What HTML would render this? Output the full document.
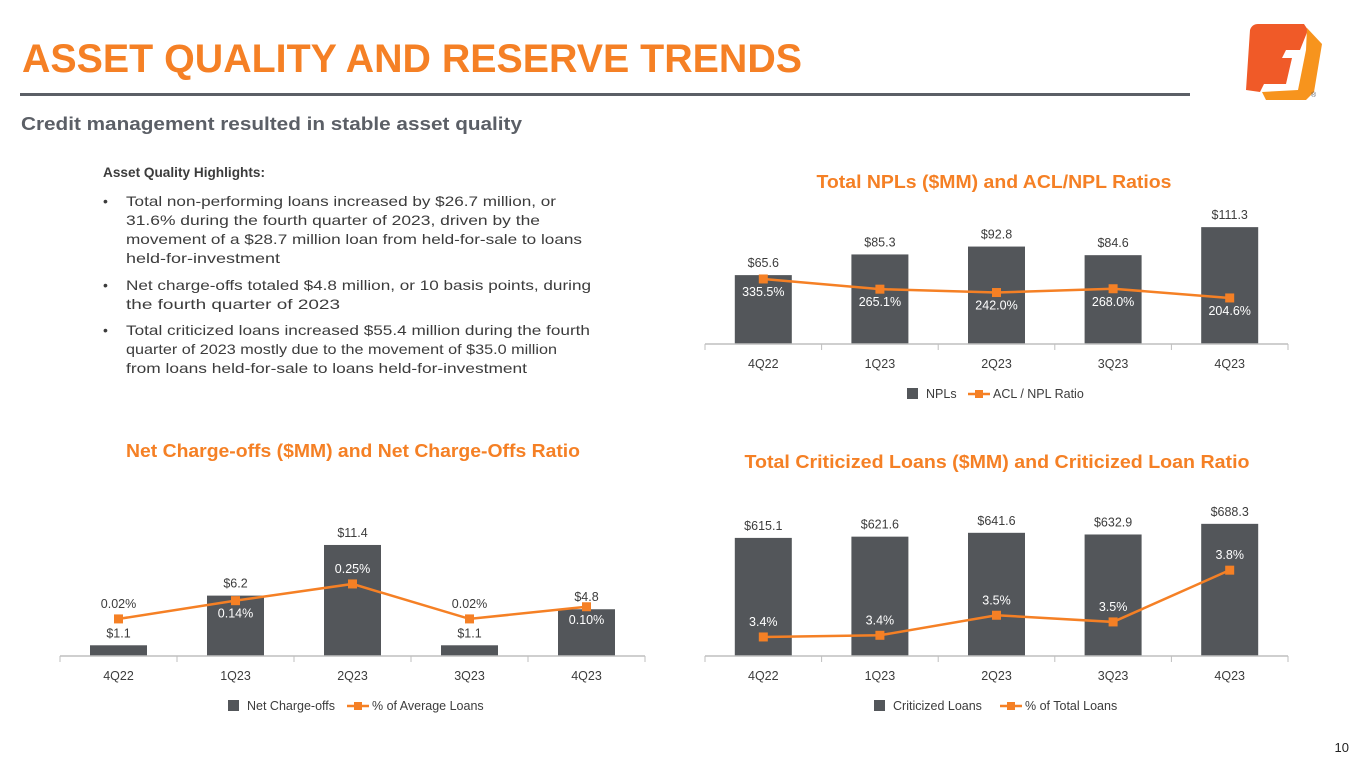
<!DOCTYPE html>
<html><head><meta charset="utf-8"><style>
body{margin:0;background:#fff;}
svg{display:block;font-family:"Liberation Sans","DejaVu Sans",sans-serif;}
</style></head><body>
<svg id="s" width="1365" height="768" viewBox="0 0 1365 768">
<text x="22" y="72" font-size="40" font-weight="bold" fill="#f58025" textLength="780" lengthAdjust="spacingAndGlyphs">ASSET QUALITY AND RESERVE TRENDS</text>
<rect x="20" y="93" width="1170" height="3" fill="#5b5f66"/>
<text x="21" y="130" font-size="18" font-weight="bold" fill="#5b5f66" textLength="501" lengthAdjust="spacingAndGlyphs">Credit management resulted in stable asset quality</text>
<g>
<path d="M1250 30 Q1252 24 1258 24 L1304 24 L1308 30 L1300 50 L1286 50 L1282 58 L1292 58 L1286 84 L1264 84 L1260 92 L1246 90 Z" fill="#f05a28"/>
<path d="M1307 28 L1322 44 L1314 92 L1306 100 L1266 100 L1262 92 L1298 90 L1306 50 Z" fill="#f7941d"/>
<text x="1311" y="97" font-size="7" fill="#5b5f66">®</text>
</g>
<g font-size="14" fill="#3c3c3c">
<text x="103" y="177" font-weight="bold" textLength="162" lengthAdjust="spacingAndGlyphs">Asset Quality Highlights:</text>
<text x="103" y="206">•</text><text x="126" y="206" textLength="430" lengthAdjust="spacingAndGlyphs">Total non-performing loans increased by $26.7 million, or</text>
<text x="126" y="225" textLength="414" lengthAdjust="spacingAndGlyphs">31.6% during the fourth quarter of 2023, driven by the</text>
<text x="126" y="244" textLength="456" lengthAdjust="spacingAndGlyphs">movement of a $28.7 million loan from held-for-sale to loans</text>
<text x="126" y="263" textLength="154" lengthAdjust="spacingAndGlyphs">held-for-investment</text>
<text x="103" y="290">•</text><text x="126" y="290" textLength="465" lengthAdjust="spacingAndGlyphs">Net charge-offs totaled $4.8 million, or 10 basis points, during</text>
<text x="126" y="309" textLength="214" lengthAdjust="spacingAndGlyphs">the fourth quarter of 2023</text>
<text x="103" y="335">•</text><text x="126" y="335" textLength="464" lengthAdjust="spacingAndGlyphs">Total criticized loans increased $55.4 million during the fourth</text>
<text x="126" y="354" textLength="431" lengthAdjust="spacingAndGlyphs">quarter of 2023 mostly due to the movement of $35.0 million</text>
<text x="126" y="373" textLength="401" lengthAdjust="spacingAndGlyphs">from loans held-for-sale to loans held-for-investment</text>
</g>
<text x="994" y="188" font-size="18" font-weight="bold" fill="#f58025" text-anchor="middle" textLength="355" lengthAdjust="spacingAndGlyphs">Total NPLs ($MM) and ACL/NPL Ratios</text>
<text x="353" y="457" font-size="18" font-weight="bold" fill="#f58025" text-anchor="middle" textLength="454" lengthAdjust="spacingAndGlyphs">Net Charge-offs ($MM) and Net Charge-Offs Ratio</text>
<text x="997" y="468" font-size="18" font-weight="bold" fill="#f58025" text-anchor="middle" textLength="505" lengthAdjust="spacingAndGlyphs">Total Criticized Loans ($MM) and Criticized Loan Ratio</text>
<text x="1349" y="752" font-size="13" fill="#222" text-anchor="end">10</text>
</svg>
<script>
const categories = ["4Q22","1Q23","2Q23","3Q23","4Q23"];
const nplValues = [65.6,85.3,92.8,84.6,111.3];
const nplRatio = [335.5,265.1,242.0,268.0,204.6];
const nplBarLabels = ["$65.6","$85.3","$92.8","$84.6","$111.3"];
const nplRatioLabels = ["335.5%","265.1%","242.0%","268.0%","204.6%"];
const ncoValues = [1.1,6.2,11.4,1.1,4.8];
const ncoRatio = [0.02,0.14,0.25,0.02,0.10];
const ncoBarLabels = ["$1.1","$6.2","$11.4","$1.1","$4.8"];
const ncoRatioLabels = ["0.02%","0.14%","0.25%","0.02%","0.10%"];
const critValues = [615.1,621.6,641.6,632.9,688.3];
const critRatio = [3.40,3.41,3.53,3.49,3.80];
const critBarLabels = ["$615.1","$621.6","$641.6","$632.9","$688.3"];
const critRatioLabels = ["3.4%","3.4%","3.5%","3.5%","3.8%"];

const NS="http://www.w3.org/2000/svg";
const svg=document.getElementById('s');
function mk(tag,attrs,parent){const e=document.createElementNS(NS,tag);for(const k in attrs)e.setAttribute(k,attrs[k]);(parent||svg).appendChild(e);return e;}
function chart(o){
  const g=mk('g',{});
  
  
  const n=categories.length, step=(o.x1-o.x0)/n;
  const cx=i=>o.x0+step*(i+0.5);
  const yb=v=>o.axis-v*o.bScale;
  const yl=v=>o.axis-(v-o.lLo)*o.lScale;
  for(let i=0;i<n;i++){
    const r=mk('rect',{x:cx(i)-28.5,y:yb(o.bars[i]),width:57,height:o.axis-yb(o.bars[i]),fill:'#53565a'},g);
    
    
    const t=mk('text',{x:cx(i),y:yb(o.bars[i])-8,'font-size':12.5,fill:'#3c3c3c','text-anchor':'middle'},g);
    t.textContent=o.barLabels[i];
    
    
    const c=mk('text',{x:cx(i),y:o.axis+24,'font-size':12.5,fill:'#3c3c3c','text-anchor':'middle'},g);
    c.textContent=categories[i];
    
    
  }
  mk('line',{x1:o.x0,x2:o.x1,y1:o.axis,y2:o.axis,stroke:'#bfbfbf','stroke-width':1.5},g);
  for(let i=0;i<=n;i++) mk('line',{x1:o.x0+step*i,x2:o.x0+step*i,y1:o.axis,y2:o.axis+6,stroke:'#bfbfbf','stroke-width':1},g);
  const pts=o.line.map((v,i)=>cx(i)+','+yl(v)).join(' ');
  const pl=mk('polyline',{points:pts,fill:'none',stroke:'#f58025','stroke-width':2.5},g);
  
  
  for(let i=0;i<n;i++){
    const m=mk('rect',{x:cx(i)-4.5,y:yl(o.line[i])-4.5,width:9,height:9,fill:'#f58025'},g);
    
    
    const above=o.labelAbove[i];
    const inBar=yl(o.line[i])+ (above?-11:17) > yb(o.bars[i]);
    const t=mk('text',{x:cx(i),y:yl(o.line[i])+(above?-11:17),'font-size':12.5,fill:inBar?'#ffffff':'#3c3c3c','text-anchor':'middle'},g);
    t.textContent=o.lineLabels[i];
    
    
  }
  const lg=mk('g',{},g);
  
  
  const ly=o.axis+50;
  mk('rect',{x:o.legX,y:ly-6,width:11,height:11,fill:'#53565a'},lg);
  const t1=mk('text',{x:o.legX+19,y:ly+4,'font-size':12.5,fill:'#3c3c3c'},lg);t1.textContent=o.leg1;
  const lx=o.legX+o.leg2X;
  mk('line',{x1:lx,x2:lx+22,y1:ly,y2:ly,stroke:'#f58025','stroke-width':2.5},lg);
  mk('rect',{x:lx+7,y:ly-4,width:8,height:8,fill:'#f58025'},lg);
  const t2=mk('text',{x:lx+25,y:ly+4,'font-size':12.5,fill:'#3c3c3c'},lg);t2.textContent=o.leg2;
}
chart({name:'npl-chart',x0:705,x1:1288,axis:344,bars:nplValues,bScale:1.05,line:nplRatio,lLo:-113,lScale:0.145,
  barLabels:nplBarLabels,lineLabels:nplRatioLabels,labelAbove:[false,false,false,false,false],
  legX:907,leg2X:61,leg1:'NPLs',leg2:'ACL / NPL Ratio'});
chart({name:'nco-chart',x0:60,x1:645,axis:656,bars:ncoValues,bScale:9.74,line:ncoRatio,lLo:-0.224,lScale:152,
  barLabels:ncoBarLabels,lineLabels:ncoRatioLabels,labelAbove:[true,false,true,true,false],
  legX:228,leg2X:119,leg1:'Net Charge-offs',leg2:'% of Average Loans'});
chart({name:'criticized-chart',x0:705,x1:1288,axis:656,bars:critValues,bScale:0.192,line:critRatio,lLo:3.286,lScale:167,
  barLabels:critBarLabels,lineLabels:critRatioLabels,labelAbove:[true,true,true,true,true],
  legX:874,leg2X:126,leg1:'Criticized Loans',leg2:'% of Total Loans'});
</script>
</body></html>
